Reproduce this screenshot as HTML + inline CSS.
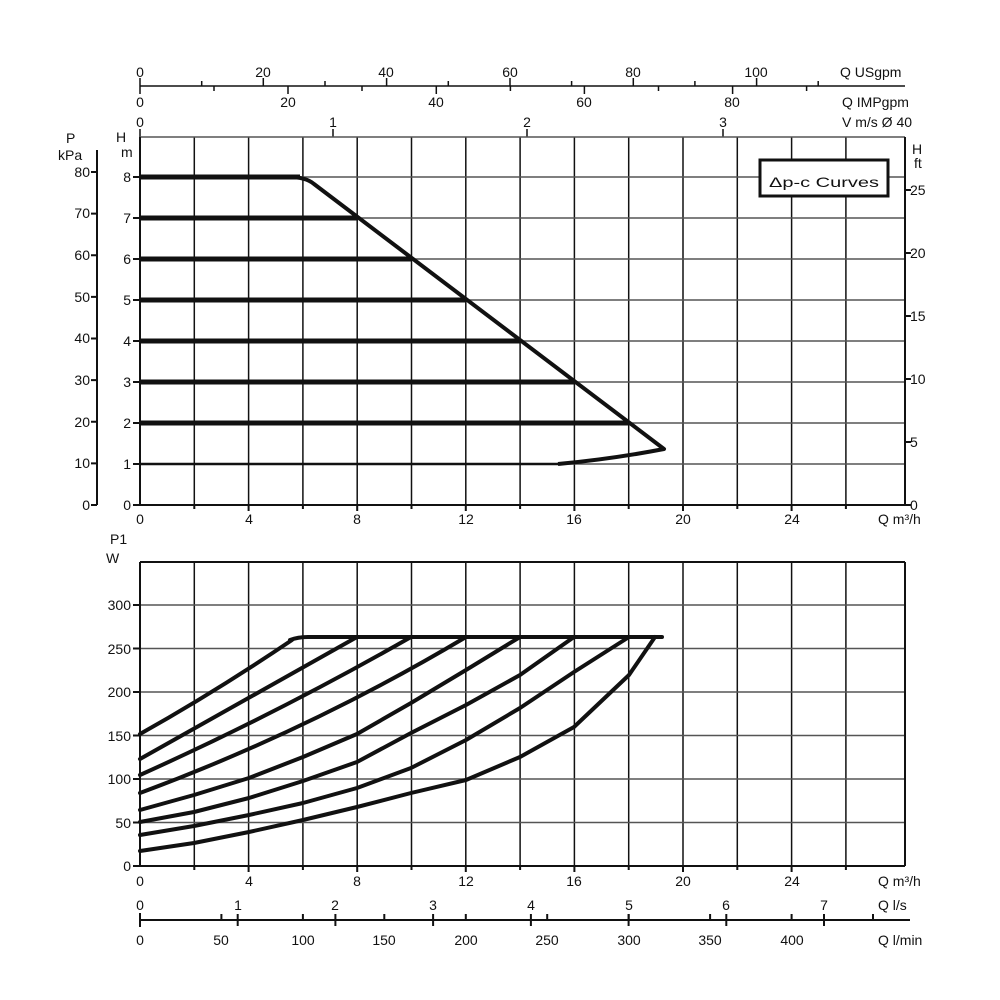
<!DOCTYPE html>
<html><head><meta charset="utf-8"><style>
html,body{margin:0;padding:0;background:#fff}
svg{display:block}
text{font-family:"Liberation Sans",sans-serif;font-size:14px;fill:#111}
</style></head><body>
<svg width="1000" height="1000" viewBox="0 0 1000 1000" xmlns="http://www.w3.org/2000/svg">
<rect width="1000" height="1000" fill="#fff"/>
<g stroke="#111" stroke-width="1.5" fill="none">
<line x1="140" y1="86" x2="905" y2="86"/>
<path d="M140,86v-8M201.7,86v-5M263.3,86v-8M325,86v-5M386.6,86v-8M448.3,86v-5M510,86v-8M571.6,86v-5M633.3,86v-8M694.9,86v-5M756.6,86v-8M818.2,86v-5"/>
<path d="M140,86v8M214,86v5M288,86v8M362,86v5M436.3,86v8M510.4,86v5M584.4,86v8M658.5,86v5M732.6,86v8M806.6,86v5"/>
<path d="M140,137v-8M333,137v-8M527,137v-8M723,137v-8"/>
</g>
<g text-anchor="middle">
<text x="140" y="77">0</text><text x="263" y="77">20</text><text x="386" y="77">40</text><text x="510" y="77">60</text><text x="633" y="77">80</text><text x="756" y="77">100</text>
<text x="140" y="107">0</text><text x="288" y="107">20</text><text x="436" y="107">40</text><text x="584" y="107">60</text><text x="732" y="107">80</text>
<text x="140" y="127">0</text><text x="333" y="127">1</text><text x="527" y="127">2</text><text x="723" y="127">3</text>
</g>
<text x="840" y="77">Q USgpm</text>
<text x="842" y="107">Q IMPgpm</text>
<text x="842" y="127">V m/s Ø 40</text>

<g stroke="#111" stroke-width="1.5" fill="none">
<path d="M194.3,137V505M248.6,137V505M302.9,137V505M357.2,137V505M411.5,137V505M465.8,137V505M520.1,137V505M574.4,137V505M628.7,137V505M683,137V505M737.3,137V505M791.6,137V505M845.9,137V505"/>
</g>
<g stroke="#555" stroke-width="1.5">
<path d="M140,137H905M140,177H905M140,218H905M140,259H905M140,300H905M140,341H905M140,382H905M140,423H905M140,464H905"/>
</g>
<g stroke="#111" stroke-width="2" fill="none">
<line x1="140" y1="137" x2="140" y2="505"/>
<line x1="140" y1="505" x2="905" y2="505"/>
<line x1="905" y1="137" x2="905" y2="505"/>
<path d="M133,505h7M133,464h7M133,423h7M133,382h7M133,341h7M133,300h7M133,259h7M133,218h7M133,177h7"/>
<path d="M194.3,505v4M248.6,505v6M302.9,505v4M357.2,505v6M411.5,505v4M465.8,505v6M520.1,505v4M574.4,505v6M628.7,505v4M683,505v6M737.3,505v4M791.6,505v6M845.9,505v4"/>
<line x1="97" y1="150" x2="97" y2="505"/>
<path d="M91,505h6M91,463.4h6M91,421.8h6M91,380.1h6M91,338.5h6M91,296.9h6M91,255.3h6M91,213.6h6M91,172h6"/>
<path d="M905,505h6M905,442h6M905,379h6M905,316h6M905,253h6M905,190h6"/>
</g>
<g text-anchor="end">
<text x="131" y="510">0</text><text x="131" y="469">1</text><text x="131" y="428">2</text><text x="131" y="387">3</text><text x="131" y="346">4</text><text x="131" y="305">5</text><text x="131" y="264">6</text><text x="131" y="223">7</text><text x="131" y="182">8</text>
<text x="90" y="510">0</text><text x="90" y="468">10</text><text x="90" y="427">20</text><text x="90" y="385">30</text><text x="90" y="343">40</text><text x="90" y="302">50</text><text x="90" y="260">60</text><text x="90" y="218">70</text><text x="90" y="177">80</text>
</g>
<text x="116" y="142" font-size="17">H</text><text x="121" y="157">m</text>
<text x="66" y="143" font-size="15">P</text><text x="58" y="160">kPa</text>
<text x="912" y="154">H</text><text x="914" y="168">ft</text>
<text x="910" y="510">0</text><text x="910" y="447">5</text><text x="910" y="384">10</text><text x="910" y="321">15</text><text x="910" y="258">20</text><text x="910" y="195">25</text>
<g text-anchor="middle">
<text x="140" y="524">0</text><text x="249" y="524">4</text><text x="357" y="524">8</text><text x="466" y="524">12</text><text x="574" y="524">16</text><text x="683" y="524">20</text><text x="792" y="524">24</text>
</g>
<text x="878" y="524">Q m³/h</text>
<g stroke="#111" fill="none" stroke-linejoin="round">
<path d="M140,177H300M140,218H357M140,259H411M140,300H466M140,341H520M140,382H574M140,423H629" stroke-width="5"/>
<path d="M140,464H560" stroke-width="2.5"/>
<path d="M288,177Q306,177 314,184L664,449Q612,459 558,464" stroke-width="4"/>
</g>
<rect x="760" y="160" width="128" height="36" fill="#fff" stroke="#111" stroke-width="3"/>
<text x="824" y="187" text-anchor="middle" font-size="21" textLength="110" lengthAdjust="spacingAndGlyphs">Δp-c Curves</text>

<g stroke="#111" stroke-width="1.5" fill="none">
<path d="M194.3,562V866M248.6,562V866M302.9,562V866M357.2,562V866M411.5,562V866M465.8,562V866M520.1,562V866M574.4,562V866M628.7,562V866M683,562V866M737.3,562V866M791.6,562V866M845.9,562V866"/>
</g>
<g stroke="#555" stroke-width="1.5">
<path d="M140,605H905M140,648.5H905M140,692H905M140,735.5H905M140,779H905M140,822.5H905"/>
</g>
<g stroke="#111" stroke-width="2" fill="none">
<line x1="140" y1="562" x2="905" y2="562"/>
<line x1="140" y1="562" x2="140" y2="866"/>
<line x1="140" y1="866" x2="905" y2="866"/>
<line x1="905" y1="562" x2="905" y2="866"/>
<path d="M133,866h7M133,822.5h7M133,779h7M133,735.5h7M133,692h7M133,648.5h7M133,605h7"/>
<path d="M194.3,866v4M248.6,866v6M302.9,866v4M357.2,866v6M411.5,866v4M465.8,866v6M520.1,866v4M574.4,866v6M628.7,866v4M683,866v6M737.3,866v4M791.6,866v6M845.9,866v4"/>
<line x1="140" y1="920" x2="910" y2="920"/>
<path d="M140,913v14M237.7,914v12M335.4,914v12M433.1,914v12M530.9,914v12M628.6,914v12M726.3,914v12M824,914v12"/>
<path d="M221.4,920v-6M302.9,920v-6M384.3,920v-6M465.8,920v-6M547.2,920v-6M628.7,920v-6M710.1,920v-6M791.6,920v-6M873,920v-6"/>
</g>
<g text-anchor="end">
<text x="131" y="871">0</text><text x="131" y="828">50</text><text x="131" y="784">100</text><text x="131" y="741">150</text><text x="131" y="697">200</text><text x="131" y="654">250</text><text x="131" y="610">300</text>
</g>
<text x="110" y="544">P1</text><text x="106" y="563" font-size="17">W</text>
<g text-anchor="middle">
<text x="140" y="886">0</text><text x="249" y="886">4</text><text x="357" y="886">8</text><text x="466" y="886">12</text><text x="574" y="886">16</text><text x="683" y="886">20</text><text x="792" y="886">24</text>
<text x="140" y="910">0</text><text x="238" y="910">1</text><text x="335" y="910">2</text><text x="433" y="910">3</text><text x="531" y="910">4</text><text x="629" y="910">5</text><text x="726" y="910">6</text><text x="824" y="910">7</text>
<text x="140" y="945">0</text><text x="221" y="945">50</text><text x="303" y="945">100</text><text x="384" y="945">150</text><text x="466" y="945">200</text><text x="547" y="945">250</text><text x="629" y="945">300</text><text x="710" y="945">350</text><text x="792" y="945">400</text>
</g>
<text x="878" y="886">Q m³/h</text>
<text x="878" y="910">Q l/s</text>
<text x="878" y="945">Q l/min</text>
<g stroke="#111" stroke-width="4" fill="none" stroke-linejoin="round" stroke-linecap="round">
<path d="M290,640Q298,637 308,637H662"/>
<path d="M140,734Q215,692 292,640"/>
<path d="M140,759Q250,697 357,637"/>
<path d="M140,775Q280,712 411,637"/>
<path d="M140,793Q310,730 466,637"/>
<path d="M140,810L194,795L249,778L303,757L357,734L411,703L466,670L520,637"/>
<path d="M140,822L194,812L249,798L303,781L357,762L411,733L466,705L520,675L574,637"/>
<path d="M140,835L194,826L249,815L303,803L357,788L411,768L466,740L520,708L574,672L629,637"/>
<path d="M140,851L194,843L249,832L303,820L357,807L411,793L466,780L520,757L574,727L629,675L655,637"/>
</g>
</svg>
</body></html>
